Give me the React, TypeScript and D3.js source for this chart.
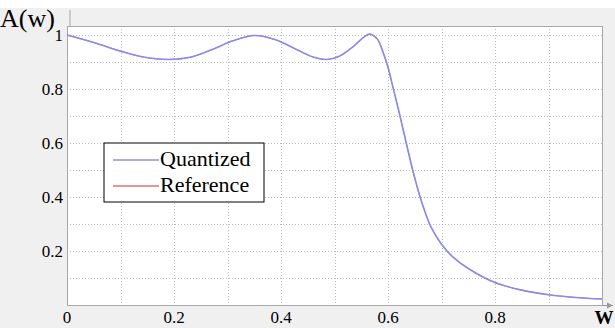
import * as d3 from 'd3';
import React, { useRef, useEffect } from 'react';

const width = 615;
const height = 328;
const margin = { top: 26, right: 12, bottom: 23, left: 67 };

// frequency (normalised) and amplitude
const wValues = [0, 0.05, 0.1, 0.14, 0.19, 0.23, 0.27, 0.31, 0.35, 0.39, 0.43, 0.46, 0.485, 0.51, 0.535, 0.555, 0.566,
    0.58, 0.59, 0.6, 0.61, 0.62, 0.63, 0.64, 0.65, 0.66, 0.67, 0.68, 0.7, 0.72, 0.75, 0.8, 0.85, 0.9, 0.95, 1.0];
const quantized = [1.0, 0.972, 0.94, 0.919, 0.909, 0.917, 0.945, 0.978, 0.998, 0.982, 0.945, 0.918, 0.909, 0.922, 0.957, 0.992, 1.003,
    0.985, 0.94, 0.88, 0.8, 0.72, 0.635, 0.55, 0.47, 0.4, 0.34, 0.29, 0.225, 0.18, 0.135, 0.083, 0.055, 0.038, 0.028, 0.022];
const reference = quantized.slice();

const xTicks = [0, 0.2, 0.4, 0.6, 0.8];
const yTicks = [0.2, 0.4, 0.6, 0.8, 1];
const xGrid = [0.1, 0.2, 0.3, 0.4, 0.5, 0.6, 0.7, 0.8, 0.9];
const yGrid = [0.1, 0.2, 0.3, 0.4, 0.5, 0.6, 0.7, 0.8, 0.9, 1.0];
const seriesNames = ['Quantized', 'Reference'];
const seriesColors = ['#8a8aee', '#d42a2a'];

function App() {
    const ref = useRef(null);

    useEffect(() => {
        const svg = d3.select(ref.current);
        svg.selectAll('*').remove();

        const x = d3.scaleLinear().domain([0, 1]).range([margin.left, width - margin.right - 1]);
        const y = d3.scaleLinear().domain([0, 1.033]).range([height - margin.bottom, margin.top]);

        svg.append('rect').attr('width', width).attr('height', height).attr('fill', '#f0f0f0');
        svg.append('rect').attr('width', width).attr('height', 8).attr('fill', '#ffffff');

        // plot area
        svg.append('rect')
            .attr('x', x(0)).attr('y', y(1.033))
            .attr('width', x(1) - x(0)).attr('height', y(0) - y(1.033))
            .attr('fill', '#ffffff');

        const font = '"Liberation Serif", "Times New Roman", serif';

        svg.append('g').selectAll('line')
            .data(xGrid).enter().append('line')
            .attr('x1', d => Math.round(x(d)) + 0.5).attr('x2', d => Math.round(x(d)) + 0.5)
            .attr('y1', y(1.033)).attr('y2', y(0))
            .attr('stroke', '#bcbcbc').attr('stroke-dasharray', '1,2');
        svg.append('g').selectAll('line')
            .data(yGrid).enter().append('line')
            .attr('x1', x(0)).attr('x2', x(1))
            .attr('y1', d => Math.round(y(d)) + 0.5).attr('y2', d => Math.round(y(d)) + 0.5)
            .attr('stroke', '#bcbcbc').attr('stroke-dasharray', '1,2');

        // border
        svg.append('rect')
            .attr('x', x(0) + 0.5).attr('y', y(1.033) + 0.5)
            .attr('width', x(1) - x(0)).attr('height', y(0) - y(1.033))
            .attr('fill', 'none').attr('stroke', '#a8a8a8');

        // arrows on axes
        svg.append('line')
            .attr('x1', x(1)).attr('x2', width - 2)
            .attr('y1', y(0) + 0.5).attr('y2', y(0) + 0.5)
            .attr('stroke', '#999');
        svg.append('path')
            .attr('d', `M${width - 2},${y(0) + 0.5} l-6,-3 l0,6 z`)
            .attr('fill', '#999');
        svg.append('line')
            .attr('x1', x(0) + 3).attr('x2', x(0) + 3)
            .attr('y1', 10).attr('y2', y(1.033))
            .attr('stroke', '#9aa');

        const line = d3.line()
            .x((d, i) => x(wValues[i]))
            .y(d => y(d))
            .curve(d3.curveCatmullRom.alpha(0.5));

        // reference sits exactly under the quantized response
        svg.append('path').datum(reference)
            .attr('d', line).attr('fill', 'none')
            .attr('stroke', seriesColors[1]).attr('stroke-width', 0.6);
        svg.append('path').datum(quantized)
            .attr('d', line).attr('fill', 'none')
            .attr('stroke', seriesColors[0]).attr('stroke-width', 1.6);

        // tick labels
        svg.append('g').selectAll('text')
            .data(xTicks).enter().append('text')
            .attr('x', d => x(d)).attr('y', 323)
            .attr('text-anchor', 'middle')
            .style('font-family', font).style('font-size', '17px')
            .text(d => String(d));
        svg.append('g').selectAll('text')
            .data(yTicks).enter().append('text')
            .attr('x', 63).attr('y', d => y(d) + 6)
            .attr('text-anchor', 'end')
            .style('font-family', font).style('font-size', '17px')
            .text(d => String(d));

        svg.append('text')
            .attr('x', 0).attr('y', 27)
            .style('font-family', font).style('font-size', '26px')
            .text('A(w)');
        svg.append('text')
            .attr('x', 604).attr('y', 324)
            .attr('text-anchor', 'middle')
            .style('font-family', font).style('font-size', '19px')
            .style('font-weight', 'bold')
            .text('W');

        // legend
        const lg = svg.append('g').attr('transform', 'translate(104,143)');
        lg.append('rect')
            .attr('width', 160).attr('height', 59)
            .attr('fill', '#ffffff').attr('stroke', '#000');
        seriesNames.forEach((name, i) => {
            lg.append('line')
                .attr('x1', 9).attr('x2', 55)
                .attr('y1', 17 + i * 26).attr('y2', 17 + i * 26)
                .attr('stroke', i === 0 ? '#5a5ab8' : seriesColors[1]).attr('stroke-width', 1.2);
            lg.append('text')
                .attr('x', 56).attr('y', 23 + i * 26)
                .style('font-family', font).style('font-size', '22px')
                .text(name);
        });
    }, []);

    return (
        <svg ref={ref} width={width} height={height}
            style={{ position: 'absolute', left: 0, top: 0, display: 'block' }}>
        </svg>
    );
}

export default App;
